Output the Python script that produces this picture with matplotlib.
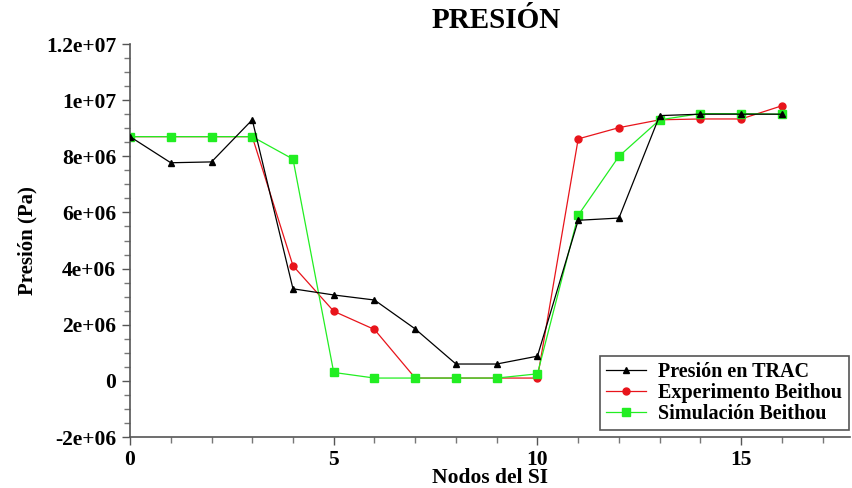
import matplotlib
matplotlib.use("Agg")
import matplotlib.pyplot as plt
from matplotlib.ticker import MultipleLocator

# ------------------------------------------------------------------------------
nodos = list(range(17))
trac = [8.7e6, 7.77e6, 7.8e6, 9.3e6, 3.28e6, 3.06e6, 2.88e6, 1.85e6, 0.6e6,
        0.6e6, 0.88e6, 5.72e6, 5.8e6, 9.45e6, 9.5e6, 9.5e6, 9.5e6]
experimento = [8.7e6, 8.7e6, 8.7e6, 8.7e6, 4.1e6, 2.48e6, 1.83e6, 0.1e6, 0.1e6,
               0.1e6, 0.1e6, 8.62e6, 9.02e6, 9.3e6, 9.33e6, 9.33e6, 9.8e6]
simulacion = [8.7e6, 8.7e6, 8.7e6, 8.7e6, 7.9e6, 0.3e6, 0.1e6, 0.1e6, 0.1e6,
              0.1e6, 0.25e6, 5.9e6, 8.0e6, 9.3e6, 9.52e6, 9.52e6, 9.5e6]
yticks = [-2e6, 0, 2e6, 4e6, 6e6, 8e6, 1e7, 1.2e7]
ylabels = ['-2e+06', '0', '2e+06', '4e+06', '6e+06', '8e+06', '1e+07', '1.2e+07']
# ------------------------------------------------------------------------------
plt.rcParams['font.family'] = ['Liberation Serif', 'DejaVu Serif']
plt.rcParams['font.weight'] = 'bold'

fig = plt.figure(figsize=(8.52, 4.88), dpi=100)
ax = fig.add_axes([0.1526, 0.1045, 0.845, 0.8053])

ax.plot(nodos, trac, color='black', lw=0.9, marker='^', ms=4.5, label='Presión en TRAC', zorder=3)
ax.plot(nodos, experimento, color='#e8141b', lw=0.9, marker='o', ms=5, label='Experimento Beithou', zorder=2)
ax.plot(nodos, simulacion, color='#22ee22', lw=0.9, marker='s', ms=5.5, label='Simulación Beithou', zorder=2.5)

ax.set_xlim(0, 17.67)
ax.set_ylim(-2e6, 1.2e7)
ax.set_xticks([0, 5, 10, 15])
ax.xaxis.set_minor_locator(MultipleLocator(1))
ax.set_yticks(yticks)
ax.set_yticklabels(ylabels)
ax.yaxis.set_minor_locator(MultipleLocator(5e5))

for s in ['top', 'right']:
    ax.spines[s].set_visible(False)
for s in ['left', 'bottom']:
    ax.spines[s].set_color('#555555')
    ax.spines[s].set_linewidth(1.2)
ax.tick_params(which='major', length=6, width=1, color='#555555', labelsize=15.5, pad=4)
ax.tick_params(axis='x', which='major', pad=3)
ax.tick_params(which='minor', length=4, width=1, color='#777777')

ax.set_xlabel('Nodos del SI', fontsize=15.5, fontweight='bold', labelpad=-1)
ax.set_ylabel('Presión (Pa)', fontsize=15, fontweight='bold', labelpad=6)
fig.text(0.582, 0.958, 'PRESIÓN', ha='center', va='center', fontsize=21, fontweight='bold')

leg = ax.legend(loc='lower right', bbox_to_anchor=(0.998, 0.018), borderaxespad=0,
                fontsize=14.5, fancybox=False, framealpha=1, edgecolor='#555555',
                handlelength=2.0, borderpad=0.3, labelspacing=0.05, handletextpad=0.6)
leg.get_frame().set_linewidth(1.2)

fig.savefig('out.png', dpi=100)
